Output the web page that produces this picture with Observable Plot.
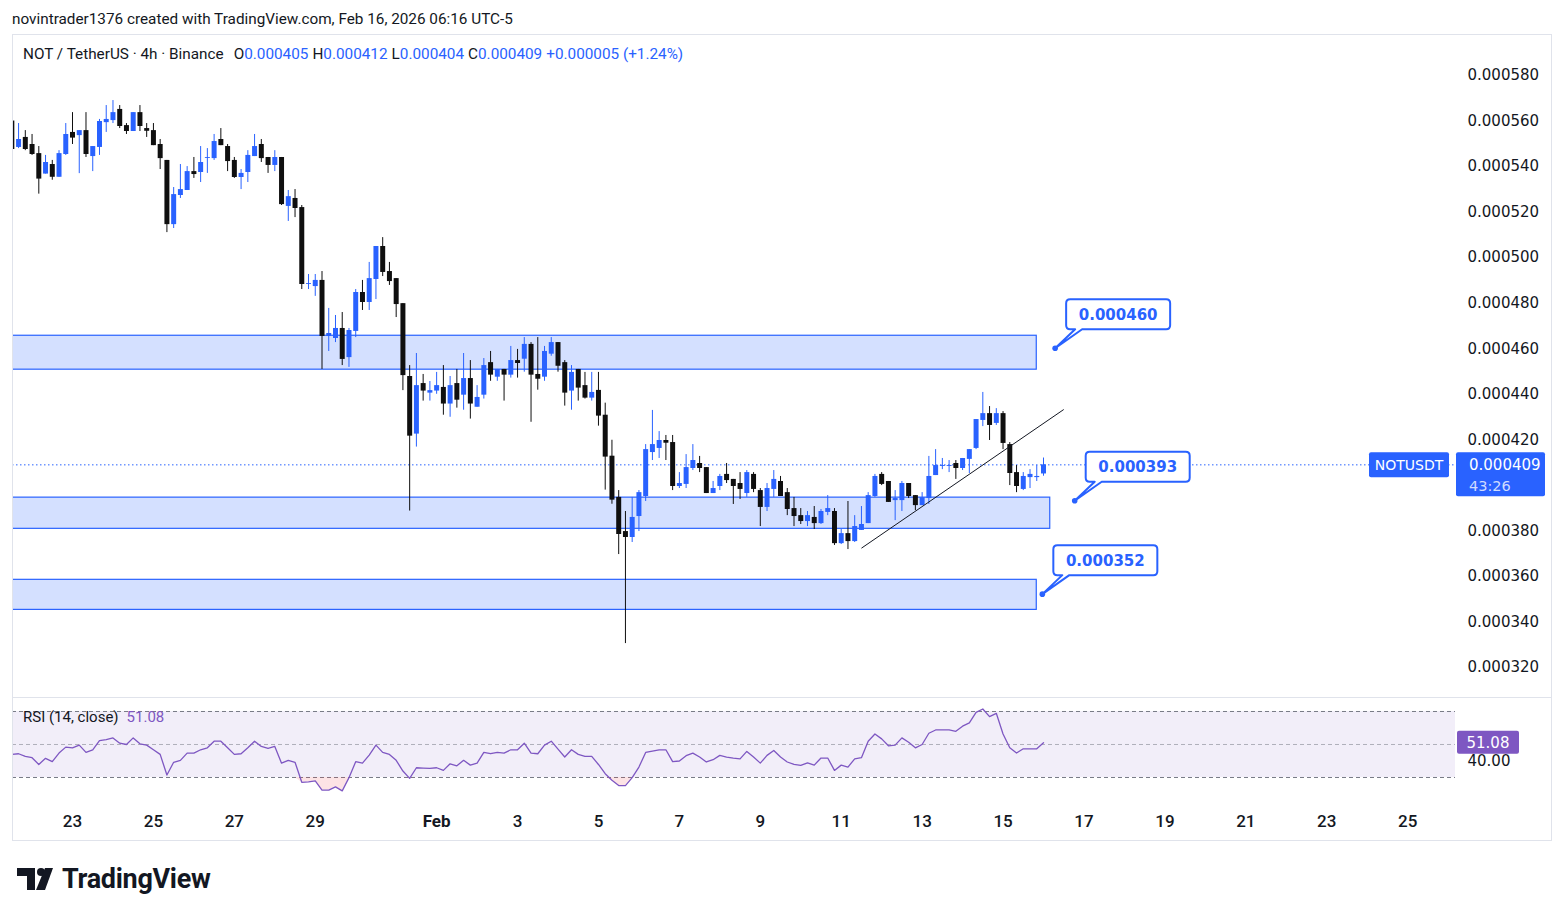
<!DOCTYPE html>
<html><head><meta charset="utf-8">
<script src="https://cdn.jsdelivr.net/npm/d3@7"></script>
<script src="https://cdn.jsdelivr.net/npm/@observablehq/plot@0.6"></script>
<style>
html,body{margin:0;padding:0;background:#fff}
body{width:1564px;height:916px;position:relative;overflow:hidden;font-family:Roboto,"Liberation Sans",sans-serif;color:#131722}
.abs{position:absolute}
#credit{left:12px;top:10px;font-size:15.3px;line-height:18px;white-space:nowrap}
#frame{left:12px;top:34px;width:1538px;height:805px;border:1px solid #e0e3eb;pointer-events:none}
#sep{left:12px;top:697px;width:1540px;height:1px;background:#e0e3eb}
#main{left:12px;top:35px}
#rsi{left:12px;top:697px}
#legend{left:23px;top:45px;font-size:15.3px;line-height:18px;white-space:nowrap}
#legend .v{color:#2962ff}
#legend .g{margin-left:4px}
#legend .g1{margin-left:10px}
#rsiLegend{left:23px;top:708px;font-size:15px;line-height:18px;white-space:nowrap}
#rsiLegend .v{color:#7e57c2;margin-left:8px}
#logo{left:17px;top:864px;height:30px;display:flex;align-items:center}
#logo span{font-family:Roboto,sans-serif;font-weight:700;font-size:27px;letter-spacing:-0.3px;margin-left:9px;color:#131722}
</style></head>
<body>
<div id="credit" class="abs">novintrader1376 created with TradingView.com, Feb 16, 2026 06:16 UTC-5</div>
<div id="main" class="abs"></div>
<div id="rsi" class="abs"></div>
<div id="sep" class="abs"></div>
<div id="legend" class="abs"></div>
<div id="rsiLegend" class="abs"></div>
<div id="frame" class="abs"></div>
<div id="logo" class="abs"><svg width="36" height="22" viewBox="0 0 36 22"><path d="M0 0H18V22H10V8H0Z" fill="#131722"/><circle cx="24" cy="4" r="4" fill="#131722"/><path d="M28 0H36L28 22H19Z" fill="#131722"/></svg><span>TradingView</span></div>
<script>
// ---- data (prices in units of 1e-6 USDT) ----
const UNIT = 1e-6;
const firstIndex = -9;            // candle index of first bar (0 = Jan 23 first 4h candle)
const open = [
560.0, 548.4, 552.8, 549.7, 545.7, 536.7, 540.9, 535.3, 545.3,
555.0, 553.6, 555.8, 544.4, 548.4, 559.3, 560.2, 565.1, 558.0, 555.4,
563.7, 556.7, 555.8, 549.7, 542.7, 514.5, 527.3, 529.5, 537.8, 537.4,
543.6, 543.5, 551.9, 548.8, 542.7, 535.2, 537.4, 544.4, 549.7, 544.0,
540.5, 544.0, 522.5, 526.0, 522.0, 488.2, 487.3, 490.0, 465.4, 464.5,
468.9, 456.1, 467.6, 484.7, 480.3, 490.4, 504.9, 493.9, 490.8, 479.8,
447.8, 422.5, 444.7, 440.5, 441.4, 443.0, 435.7, 444.7, 439.6, 446.9,
434.3, 439.6, 453.9, 447.5, 450.9, 448.4, 454.8, 455.4, 461.9, 448.7,
447.5, 457.6, 462.7, 453.9, 441.4, 450.9, 443.8, 438.3, 441.7, 430.8,
412.8, 394.7, 379.7, 377.1, 386.3, 395.1, 414.4, 416.2, 419.7, 418.8,
399.5, 400.4, 407.4, 409.6, 407.8, 396.4, 399.5, 404.8, 402.6, 400.8,
396.4, 404.8, 397.7, 390.3, 398.2, 401.7, 396.8, 389.8, 386.7, 384.1,
385.9, 383.2, 388.1, 388.5, 374.4, 378.8, 375.3, 380.2, 383.2, 395.1,
404.8, 401.7, 393.3, 393.3, 400.8, 395.5, 391.1, 394.2, 404.3, 408.3,
408.3, 409.6, 407.4, 411.4, 416.2, 428.5, 431.5, 427.2, 431.5, 417.9,
405.6, 398.2, 403.4, 403.4, 405];
const high = [
560.0, 558.9, 555.8, 554.1, 548.8, 544.9, 542.7, 547.0, 558.9,
563.7, 555.8, 563.7, 548.8, 560.7, 566.8, 569.0, 566.8, 558.9, 563.7,
566.8, 558.9, 558.9, 551.9, 542.7, 530.8, 540.9, 540.0, 544.0, 548.8,
547.9, 554.1, 556.7, 549.7, 544.0, 538.7, 547.0, 554.1, 551.9, 544.0,
547.0, 544.0, 529.5, 529.9, 522.9, 492.6, 492.6, 493.9, 477.7, 474.6,
475.9, 468.9, 486.0, 490.0, 497.9, 504.9, 508.8, 497.9, 490.8, 479.8,
452.6, 457.9, 448.7, 445.6, 449.6, 452.6, 447.8, 450.9, 457.9, 454.8,
443.8, 455.7, 458.8, 450.9, 450.9, 461.0, 459.7, 464.9, 462.7, 464.9,
461.0, 464.9, 462.7, 454.8, 452.6, 450.9, 449.6, 449.6, 449.6, 436.1,
419.8, 397.7, 388.5, 394.7, 397.7, 417.9, 432.9, 423.6, 421.9, 421.9,
405.6, 413.5, 417.9, 412.7, 407.8, 401.7, 404.8, 409.6, 402.6, 405.6,
406.5, 405.6, 398.6, 400.8, 406.5, 403.9, 398.6, 394.7, 389.8, 388.5,
390.7, 389.4, 395.5, 389.8, 380.6, 392.9, 386.7, 390.7, 396.8, 404.8,
405.6, 401.7, 397.7, 401.7, 400.8, 395.5, 396.8, 412.7, 415.7, 411.8,
410.9, 410.9, 411.8, 415.7, 428.9, 440.8, 434.6, 433.7, 432.4, 418.8,
408.7, 405.6, 406.9, 408.7, 412];
const low = [
547.0, 547.9, 547.0, 544.9, 527.9, 536.7, 534.0, 535.3, 544.9,
549.7, 536.9, 544.0, 537.8, 544.9, 555.0, 558.9, 556.7, 554.1, 555.4,
555.4, 552.8, 549.2, 538.7, 511.0, 512.8, 526.0, 529.5, 534.8, 533.0,
537.0, 542.7, 549.2, 537.8, 534.8, 529.9, 533.0, 544.4, 541.8, 537.0,
537.8, 522.9, 515.9, 517.6, 486.0, 486.0, 483.0, 450.9, 458.8, 462.7,
452.6, 451.8, 464.9, 476.8, 476.8, 481.6, 491.7, 487.8, 473.7, 441.6,
388.7, 416.8, 437.0, 437.0, 440.0, 430.8, 429.9, 433.9, 433.0, 429.1,
434.3, 437.9, 445.7, 445.7, 437.0, 447.1, 447.1, 449.7, 427.7, 441.8,
445.7, 456.7, 449.7, 434.8, 433.0, 437.0, 437.9, 437.0, 426.0, 397.9,
391.7, 369.6, 330.5, 374.9, 379.7, 392.9, 410.9, 411.8, 410.9, 397.7,
398.6, 398.6, 406.5, 405.6, 396.4, 396.4, 397.7, 400.8, 391.6, 393.8,
394.7, 396.8, 381.9, 388.5, 394.7, 395.1, 386.7, 381.9, 382.8, 381.9,
380.6, 382.8, 386.7, 373.6, 374.0, 371.8, 374.9, 380.2, 383.2, 394.7,
399.9, 392.5, 384.5, 388.5, 394.2, 388.9, 391.1, 391.6, 404.3, 406.9,
405.6, 402.6, 406.5, 405.2, 415.7, 425.8, 419.7, 426.3, 415.7, 399.9,
396.8, 397.7, 398.6, 401.7, 404];
const close = [
547.5, 551.9, 547.5, 545.3, 534.5, 541.8, 535.3, 545.7, 554.1,
552.5, 555.8, 545.3, 548.8, 559.8, 560.7, 563.7, 557.6, 555.4, 563.7,
557.6, 555.5, 549.2, 543.5, 514.5, 527.7, 529.9, 537.8, 536.5, 541.8,
544.0, 551.0, 549.2, 542.2, 535.2, 537.0, 544.9, 548.8, 543.5, 540.5,
544.0, 523.3, 526.8, 521.6, 488.2, 488.6, 490.0, 465.4, 466.7, 468.9,
455.3, 468.0, 484.7, 480.3, 490.8, 504.9, 493.5, 489.5, 479.4, 448.2,
421.6, 443.8, 441.4, 441.6, 443.8, 435.7, 443.8, 437.4, 446.9, 435.7,
438.6, 452.6, 448.4, 450.9, 448.4, 454.8, 453.5, 461.9, 448.4, 446.6,
458.8, 462.7, 452.3, 440.5, 449.6, 442.7, 438.3, 440.8, 430.4, 412.4,
393.5, 378.4, 377.1, 385.9, 396.8, 415.7, 417.9, 419.7, 418.5, 399.5,
400.8, 407.8, 410.9, 407.4, 396.4, 398.6, 403.9, 402.1, 399.5, 398.2,
405.6, 398.2, 390.3, 398.6, 402.6, 395.1, 389.4, 386.3, 384.1, 386.7,
383.2, 388.5, 389.8, 374.4, 378.8, 375.3, 381.9, 382.8, 395.5, 403.9,
400.4, 392.5, 394.2, 400.8, 395.1, 391.1, 394.6, 403.9, 408.7, 408.7,
408.7, 407.4, 411.8, 415.7, 428.9, 431.5, 426.3, 431.5, 418.4, 405.2,
399.5, 403.9, 404.8, 403.9, 409];
const rsi = [
44.0, 44.4, 42.8, 42.0, 37.9, 41.6, 39.6, 44.8, 48.4,
48.0, 49.6, 45.2, 46.8, 52.4, 53.0, 54.0, 50.8, 50.0, 54.0,
50.4, 49.6, 46.8, 44.0, 31.5, 39.2, 40.4, 44.8, 44.8, 46.8,
48.0, 52.0, 52.0, 48.0, 44.0, 44.4, 48.0, 52.0, 48.8, 47.6,
48.8, 38.7, 40.4, 39.2, 27.1, 27.3, 27.9, 22.3, 22.3, 24.3,
21.9, 29.9, 39.6, 38.7, 43.6, 49.6, 45.2, 44.0, 40.4, 33.9,
29.5, 35.9, 35.7, 35.5, 35.9, 34.3, 38.3, 37.1, 40.4, 37.5,
38.7, 45.2, 44.4, 45.2, 44.8, 46.8, 46.8, 50.8, 44.8, 44.4,
49.6, 52.0, 47.2, 42.4, 46.8, 44.0, 42.8, 42.8, 37.9, 32.3,
28.3, 25.1, 25.1, 29.9, 36.3, 45.2, 46.0, 46.8, 46.8, 39.6,
40.0, 43.2, 44.8, 42.4, 39.4, 40.8, 43.4, 42.4, 41.8, 41.3,
45.8, 42.4, 38.7, 43.4, 46.4, 42.4, 39.4, 37.9, 37.3, 38.9,
37.5, 41.8, 41.8, 34.3, 37.5, 36.3, 41.3, 42.0, 52.0, 56.4,
53.4, 49.2, 49.6, 54.0, 51.4, 48.0, 50.0, 56.8, 58.8, 58.8,
58.8, 58.0, 61.1, 63.1, 69.5, 71.5, 66.9, 68.9, 56.4, 48.0,
44.8, 47.4, 47.4, 47.4, 51.08];

// horizontal zones
const zoneLow = [450.8, 380.9, 345.3];
const zoneHigh = [465.7, 394.6, 358.5];
const zoneStart = [-12, -12, -12];
const zoneEnd = [143, 145, 143];
// callouts
const calloutLabel = ["0.000460", "0.000393", "0.000352"];
const calloutPrice = [460, 393, 352];
const calloutK = [145.8, 148.7, 143.9];
// trend line
const trendK = [117.0, 147.0];
const trendPrice = [372.4, 433.3];
// axes (0.000400 is hidden behind the last-price tag in the reference)
const yTickValues = [320, 340, 360, 380, 420, 440, 460, 480, 500, 520, 540, 560, 580];
const xTickK = [0, 12, 24, 36, 54, 66, 78, 90, 102, 114, 126, 138, 150, 162, 174, 186, 198];
const xTickLabels = ["23", "25", "27", "29", "Feb", "3", "5", "7", "9", "11", "13", "15", "17", "19", "21", "23", "25"];
const rsiTicks = [40];
const symbolName = "NOTUSDT";
const countdown = "43:26";
const changeText = "+0.000005 (+1.24%)";

// ---- build tables ----
const UP = "#2962ff", DOWN = "#0f0f0f";
const candles = open.map((o, i) => ({
  k: firstIndex + i, open: o * UNIT, high: high[i] * UNIT, low: low[i] * UNIT, close: close[i] * UNIT
}));
const rsiRows = rsi.map((v, i) => ({k: firstIndex + i, rsi: v}));
const zones = zoneLow.map((l, i) => ({x1: zoneStart[i], x2: zoneEnd[i], y1: l * UNIT, y2: zoneHigh[i] * UNIT}));
const callouts = calloutLabel.map((t, i) => ({label: t, k: calloutK[i], price: calloutPrice[i] * UNIT}));
const trend = [{x1: trendK[0], y1: trendPrice[0] * UNIT, x2: trendK[1], y2: trendPrice[1] * UNIT}];
const last = candles[candles.length - 1];
const lastRsi = rsi[rsi.length - 1];
const colorOf = d => d.close >= d.open ? UP : DOWN;

const NS = "http://www.w3.org/2000/svg";
function el(tag, attrs = {}, text) {
  const e = document.createElementNS(NS, tag);
  for (const [k, v] of Object.entries(attrs)) e.setAttribute(k, v);
  if (text != null) e.textContent = text;
  return e;
}

const xDomain = [-8.9, 205.1];
const W = 1539;

// callout mark (uses the plot's scales)
const calloutMark = (index, scales) => {
  const g = el("g");
  for (const d of callouts) {
    const x = scales.x(d.k), y = scales.y(d.price);
    const L = x + 11, R = L + 104, B = y - 19, T = B - 30, r = 4;
    const p = `M${L + r},${T}H${R - r}Q${R},${T} ${R},${T + r}V${B - r}Q${R},${B} ${R - r},${B}H${x + 27}L${x},${y}L${x + 20},${B}H${L + r}Q${L},${B} ${L},${B - r}V${T + r}Q${L},${T} ${L + r},${T}Z`;
    g.append(el("path", {d: p, fill: "#fff", stroke: "#2962ff", "stroke-width": 2, "stroke-linejoin": "round"}));
    g.append(el("circle", {cx: x, cy: y, r: 2.8, fill: "#2962ff"}));
    g.append(el("text", {x: (L + R) / 2, y: (T + B) / 2, dy: "0.36em", "text-anchor": "middle", fill: "#2962ff",
      "font-family": "DejaVu Sans", "font-size": 15, "font-weight": "bold"}, d.label));
  }
  return g;
};

// last-price tags
const priceTagMark = (index, scales, values, dims) => {
  const g = el("g");
  const y = scales.y(last.close);
  const xr = dims.width - dims.marginRight; // plot right edge
  g.append(el("rect", {x: xr - 86, y: y - 12, width: 80, height: 25, rx: 2, fill: "#2962ff"}));
  g.append(el("text", {x: xr - 46, y: y + 0.5, dy: "0.36em", "text-anchor": "middle", fill: "#fff", "font-family": "DejaVu Sans", "font-size": 14}, symbolName));
  g.append(el("rect", {x: xr + 1, y: y - 12, width: 89, height: 44, rx: 2, fill: "#2962ff"}));
  g.append(el("text", {x: xr + 14, y: y, dy: "0.36em", "text-anchor": "start", fill: "#fff", "font-family": "DejaVu Sans", "font-size": 15}, last.close.toFixed(6)));
  g.append(el("text", {x: xr + 14, y: y + 21, dy: "0.36em", "text-anchor": "start", fill: "rgba(255,255,255,0.78)", "font-family": "DejaVu Sans", "font-size": 14.5}, countdown));
  return g;
};

const mainChart = Plot.plot({
  width: W, height: 662,
  marginLeft: 0, marginRight: 96, marginTop: 0, marginBottom: 0,
  x: {domain: xDomain, axis: null},
  y: {domain: [306.82 * UNIT, 597.57 * UNIT]},
  color: {type: "identity"},
  style: {fontFamily: "DejaVu Sans", fontSize: "15px", color: "#131722", background: "transparent", overflow: "visible"},
  marks: [
    Plot.rect(zones, {x1: "x1", x2: "x2", y1: "y1", y2: "y2", fill: "#2962ff", fillOpacity: 0.2, stroke: "#2962ff", strokeWidth: 1.2, clip: true}),
    Plot.ruleY([last.close], {stroke: "#2962ff", strokeWidth: 1, strokeDasharray: "1.5,2.5"}),
    Plot.ruleX(candles, {x: "k", y1: "low", y2: "high", stroke: colorOf, strokeWidth: 1, clip: true}),
    Plot.ruleX(candles, {x: "k", y1: "open", y2: "close", stroke: colorOf, strokeWidth: 5, clip: true}),
    Plot.link(trend, {x1: "x1", y1: "y1", x2: "x2", y2: "y2", stroke: "#131722", strokeWidth: 1}),
    Plot.axisY({anchor: "right", label: null, ticks: yTickValues.map(v => v * UNIT), tickSize: 0, tickPadding: 12, tickFormat: d => d.toFixed(6), fontSize: 15, fill: "#131722"}),
    calloutMark,
    priceTagMark
  ]
});
document.getElementById("main").append(mainChart);

// RSI badge
const rsiBadge = (index, scales, values, dims) => {
  const g = el("g");
  const y = scales.y(lastRsi);
  const xr = dims.width - dims.marginRight;
  g.append(el("rect", {x: xr + 2, y: y - 11.5, width: 62, height: 23, rx: 2, fill: "#7e57c2"}));
  g.append(el("text", {x: xr + 33, y: y, dy: "0.36em", "text-anchor": "middle", fill: "#fff", "font-family": "DejaVu Sans", "font-size": 15}, lastRsi.toFixed(2)));
  return g;
};

const monthIdx = xTickLabels.map((l, i) => isNaN(+l) ? i : -1).filter(i => i >= 0);
const dayIdx = xTickLabels.map((l, i) => isNaN(+l) ? -1 : i).filter(i => i >= 0);

const rsiChart = Plot.plot({
  width: W, height: 143,
  marginLeft: 0, marginRight: 96, marginTop: 0, marginBottom: 40,
  x: {domain: xDomain},
  y: {domain: [16.06, 78.48]},
  style: {fontFamily: "DejaVu Sans", fontSize: "15px", color: "#131722", background: "transparent", overflow: "visible"},
  marks: [
    Plot.rectY([0], {y1: 30, y2: 70, fill: "#7e57c2", fillOpacity: 0.1}),
    Plot.ruleY([70, 30], {stroke: "#787b86", strokeWidth: 1, strokeDasharray: "4,3"}),
    Plot.ruleY([50], {stroke: "#787b86", strokeOpacity: 0.55, strokeWidth: 1, strokeDasharray: "4,3"}),
    Plot.areaY(rsiRows, {x: "k", y1: 30, y2: d => Math.min(d.rsi, 30), fill: "#f23645", fillOpacity: 0.14, clip: true}),
    Plot.line(rsiRows, {x: "k", y: "rsi", stroke: "#7e57c2", strokeWidth: 1.3, clip: true}),
    Plot.axisY({anchor: "right", label: null, ticks: rsiTicks, tickSize: 0, tickPadding: 12, tickFormat: d => d.toFixed(2), fontSize: 15, fill: "#131722"}),
    rsiBadge,
    Plot.axisX({label: null, ticks: dayIdx.map(i => xTickK[i]), tickFormat: d => xTickLabels[xTickK.indexOf(d)], tickSize: 0, tickPadding: 14, fontFamily: "Roboto", fontSize: 17, fontWeight: 500, fill: "#131722"}),
    Plot.axisX({label: null, ticks: monthIdx.map(i => xTickK[i]), tickFormat: d => xTickLabels[xTickK.indexOf(d)], tickSize: 0, tickPadding: 14, fontFamily: "Roboto", fontSize: 17, fontWeight: "bold", fill: "#131722"})
  ]
});
document.getElementById("rsi").append(rsiChart);

// legends
const fmt = v => (v).toFixed(6);
document.getElementById("legend").innerHTML =
  `<span>NOT / TetherUS · 4h · Binance</span>` +
  `<span class="g1">O</span><span class="v">${fmt(last.open)}</span>` +
  `<span class="g">H</span><span class="v">${fmt(last.high)}</span>` +
  `<span class="g">L</span><span class="v">${fmt(last.low)}</span>` +
  `<span class="g">C</span><span class="v">${fmt(last.close)}</span>` +
  `<span class="g v">${changeText}</span>`;
document.getElementById("rsiLegend").innerHTML = `RSI (14, close)<span class="v">${lastRsi.toFixed(2)}</span>`;
</script>
</body></html>
